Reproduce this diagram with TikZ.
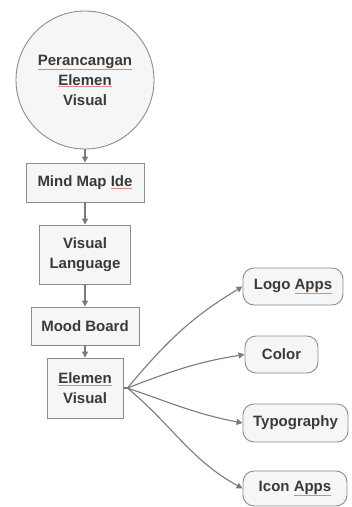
\documentclass[tikz,border=0pt]{standalone}
\usepackage{fontspec}
\setmainfont{Liberation Sans}
\usetikzlibrary{arrows.meta}
\definecolor{txt}{HTML}{3A3A3A}
\definecolor{bord}{HTML}{8C8C8C}
\definecolor{fil}{HTML}{F6F6F6}
\definecolor{arr}{HTML}{7A7A7A}
\definecolor{sq}{HTML}{D88A8A}
\newcommand\sqw[1]{{\color{sq}\underline{\color{txt}#1}}}
\tikzset{
  lbl/.style={font=\fontsize{15}{20}\selectfont\bfseries, text=txt, align=center, inner sep=0pt},
  sqbox/.style={lbl, draw=bord, fill=fil, line width=0.9pt},
  rbox/.style={lbl, draw=bord, fill=fil, line width=0.9pt, rounded corners=11pt},
  conn/.style={draw=arr, line width=1.1pt, -{Triangle[length=6pt,width=6pt]}}
}
\begin{document}
\begin{tikzpicture}[x=1pt,y=-1pt]
\useasboundingbox (0,0) rectangle (352,507);
\node[lbl, circle, draw=bord, fill=fil, line width=0.9pt, minimum size=138pt] (c) at (85,80) {\sqw{Perancangan}\\\sqw{Elemen}\\Visual};
\node[sqbox, minimum width=118pt, minimum height=39pt] (mm) at (85,182.5) {Mind Map \sqw{Ide}};
\node[sqbox, minimum width=91pt, minimum height=59pt] (vl) at (85,254.5) {Visual\\Language};
\node[sqbox, minimum width=108pt, minimum height=38pt] (mb) at (85,326) {Mood Board};
\node[sqbox, minimum width=76pt, minimum height=60pt] (ev) at (85,388) {\sqw{Elemen}\\Visual};
\node[rbox, minimum width=100pt, minimum height=37pt] (logo) at (293,286.5) {Logo \sqw{Apps}};
\node[rbox, minimum width=73pt, minimum height=37pt] (col) at (281.5,354.5) {Color};
\node[rbox, minimum width=105pt, minimum height=38pt] (typ) at (295.5,423) {Typography};
\node[rbox, minimum width=104pt, minimum height=35pt] (ico) at (295,488.5) {Icon \sqw{Apps}};
\coordinate (fan) at ([xshift=4pt]ev.east);
\draw[conn] (c) -- (mm);
\draw[conn] (mm) -- (vl);
\draw[conn] (vl) -- (mb);
\draw[conn] (mb) -- (ev);
\draw[draw=arr, line width=1.1pt] (ev.east) -- (fan);
\draw[conn] (fan) to[out=50,in=211] (logo.west);
\draw[conn] (fan) to[out=21,in=189] (col.west);
\draw[conn] (fan) to[out=-19,in=169] (typ.west);
\draw[conn] (fan) to[out=-40,in=151] (ico.west);
\end{tikzpicture}
\end{document}
